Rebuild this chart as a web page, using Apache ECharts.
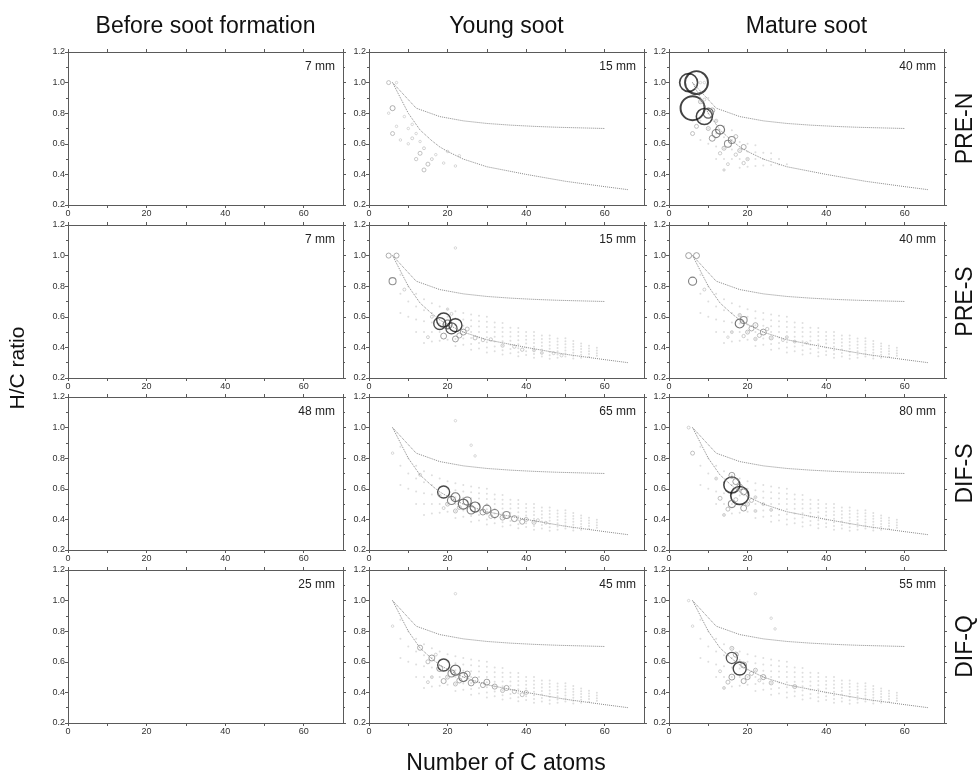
<!DOCTYPE html>
<html>
<head>
<meta charset="utf-8">
<script src="https://cdn.jsdelivr.net/npm/echarts@6/dist/echarts.min.js"></script>
<style>
  html, body { margin: 0; padding: 0; background: #fff; }
  #chart { width: 979px; height: 776px; }
</style>
</head>
<body>
<div id="chart"></div>
<script>
const columnTitles = ['Before soot formation', 'Young soot', 'Mature soot']
const rowNames = ['PRE-N', 'PRE-S', 'DIF-S', 'DIF-Q']
const heightLabels = [
  ['7 mm', '15 mm', '40 mm'],
  ['7 mm', '15 mm', '40 mm'],
  ['48 mm', '65 mm', '80 mm'],
  ['25 mm', '45 mm', '55 mm']
]
const xTicks = [0, 20, 40, 60]

// dotted guide lines (number of C, H/C)
const upperC = [6, 12, 18, 24, 30, 36, 42, 48, 54, 60]
const upperHC = [1.0, 0.833, 0.778, 0.75, 0.733, 0.722, 0.714, 0.708, 0.704, 0.7]
const lowerC = [6, 10, 13, 16, 18, 20, 24, 30, 40, 50, 60, 66]
const lowerHC = [1.0, 0.8, 0.69, 0.62, 0.58, 0.55, 0.5, 0.45, 0.4, 0.355, 0.32, 0.3]

// faint background of weak peaks: C numbers and the H/C values seen at each
const cloudEarlyC = [8, 10, 12, 14, 16, 18, 20, 22, 24, 26, 28, 30]
const cloudEarlyHC = [
  [0.625, 0.75, 0.875], [0.6, 0.7, 0.8, 0.9], [0.5, 0.583, 0.667, 0.75],
  [0.429, 0.5, 0.571, 0.643, 0.714], [0.5, 0.563, 0.625, 0.688], [0.444, 0.5, 0.556, 0.611],
  [0.45, 0.5, 0.55, 0.6], [0.455, 0.5, 0.545, 0.591], [0.458, 0.5, 0.542],
  [0.462, 0.5, 0.538], [0.464, 0.5], [0.467]
]
const cloudWideC = [8, 10, 12, 14, 16, 18, 20, 22, 24, 26, 28, 30, 32, 34, 36, 38, 40, 42, 44, 46, 48, 50, 52, 54, 56, 58]
const cloudWideHC = [
  [0.625, 0.75, 0.875], [0.6, 0.7, 0.8], [0.5, 0.583, 0.667, 0.75],
  [0.429, 0.5, 0.571, 0.643, 0.714], [0.438, 0.5, 0.563, 0.625, 0.688], [0.444, 0.5, 0.556, 0.611, 0.667],
  [0.45, 0.5, 0.55, 0.6, 0.65], [0.409, 0.455, 0.5, 0.545, 0.591, 0.636], [0.417, 0.458, 0.5, 0.542, 0.583, 0.625],
  [0.385, 0.423, 0.462, 0.5, 0.538, 0.577, 0.615], [0.393, 0.429, 0.464, 0.5, 0.536, 0.571, 0.607],
  [0.367, 0.4, 0.433, 0.467, 0.5, 0.533, 0.567, 0.6], [0.375, 0.406, 0.438, 0.469, 0.5, 0.531, 0.563],
  [0.353, 0.382, 0.412, 0.441, 0.471, 0.5, 0.529, 0.559], [0.361, 0.389, 0.417, 0.444, 0.472, 0.5, 0.528],
  [0.342, 0.368, 0.395, 0.421, 0.447, 0.474, 0.5, 0.526], [0.35, 0.375, 0.4, 0.425, 0.45, 0.475, 0.5],
  [0.333, 0.357, 0.381, 0.405, 0.429, 0.452, 0.476, 0.5], [0.341, 0.364, 0.386, 0.409, 0.432, 0.455, 0.477],
  [0.326, 0.348, 0.37, 0.391, 0.413, 0.435, 0.457, 0.478], [0.333, 0.354, 0.375, 0.396, 0.417, 0.438, 0.458],
  [0.34, 0.36, 0.38, 0.4, 0.42, 0.44, 0.46], [0.327, 0.346, 0.365, 0.385, 0.404, 0.423, 0.442],
  [0.333, 0.352, 0.37, 0.389, 0.407, 0.426], [0.339, 0.357, 0.375, 0.393, 0.411], [0.345, 0.362, 0.379, 0.397]
]

// peaks: [number of C, H/C, relative abundance %]
const preN15 = [[5, 1.0, 7], [6, 0.833, 12], [6, 0.667, 7], [7, 1.0, 0], [5, 0.8, 0], [7, 0.714, 0], [9, 0.778, 0],
  [10, 0.7, 0], [8, 0.625, 0], [11, 0.636, 2], [10, 0.6, 0], [12, 0.667, 0], [13, 0.538, 7], [12, 0.5, 4],
  [14, 0.429, 7], [15, 0.467, 7], [14, 0.571, 2], [16, 0.5, 2], [17, 0.529, 0], [19, 0.474, 0], [20, 0.55, 0],
  [22, 0.455, 0], [23, 0.522, 0], [13, 0.615, 0], [11, 0.727, 0]]
const preN40 = [[5, 1.0, 72], [7, 1.0, 95], [6, 0.833, 100], [9, 0.778, 63], [10, 0.8, 35], [11, 0.818, 12],
  [13, 0.692, 30], [12, 0.667, 26], [11, 0.636, 16], [10, 0.7, 7], [7, 0.714, 7], [6, 0.667, 7], [16, 0.625, 21],
  [15, 0.6, 21], [14, 0.571, 7], [17, 0.647, 7], [19, 0.579, 12], [18, 0.556, 7], [17, 0.529, 4], [13, 0.538, 4],
  [20, 0.5, 4], [19, 0.474, 4], [15, 0.467, 2], [14, 0.429, 0], [8, 0.875, 7], [12, 0.75, 4], [8, 1.0, 0],
  [9, 1.0, 0], [9, 0.889, 2]]
const preS15 = [[5, 1.0, 12], [7, 1.0, 12], [6, 0.833, 21], [9, 0.778, 2], [18, 0.556, 44], [19, 0.579, 53],
  [21, 0.524, 40], [22, 0.545, 49], [20, 0.55, 30], [19, 0.474, 16], [23, 0.478, 12], [22, 0.455, 16], [24, 0.5, 16],
  [25, 0.52, 7], [27, 0.462, 7], [29, 0.448, 4], [31, 0.452, 4], [34, 0.412, 4], [37, 0.405, 4], [39, 0.385, 4],
  [42, 0.381, 2], [44, 0.364, 2], [47, 0.362, 2], [49, 0.347, 2], [16, 0.6, 2], [20, 0.65, 0], [22, 1.05, 0],
  [15, 0.467, 2], [21, 0.619, 2]]
const preS40 = [[5, 1.0, 16], [7, 1.0, 16], [6, 0.833, 26], [9, 0.778, 2], [18, 0.556, 30], [19, 0.579, 21],
  [18, 0.611, 4], [21, 0.524, 12], [22, 0.545, 12], [24, 0.5, 16], [23, 0.478, 7], [26, 0.462, 7], [25, 0.52, 4],
  [20, 0.5, 7], [19, 0.474, 4], [22, 0.455, 4], [29, 0.448, 2], [30, 0.467, 2], [32, 0.438, 2], [35, 0.429, 0],
  [16, 0.5, 2], [15, 0.467, 0]]
const difS65 = [[19, 0.579, 44], [21, 0.524, 26], [22, 0.545, 30], [24, 0.5, 35], [25, 0.52, 26], [26, 0.462, 26],
  [27, 0.481, 35], [30, 0.467, 26], [29, 0.448, 16], [32, 0.438, 26], [31, 0.419, 7], [35, 0.429, 21],
  [34, 0.412, 12], [37, 0.405, 16], [39, 0.385, 12], [40, 0.4, 7], [42, 0.381, 7], [43, 0.395, 2], [45, 0.378, 2],
  [20, 0.5, 7], [19, 0.474, 2], [18, 0.556, 2], [22, 0.455, 7], [23, 0.478, 7], [22, 1.045, 0], [26, 0.885, 0],
  [27, 0.815, 0], [6, 0.833, 0], [13, 0.692, 2]]
const difS80 = [[5, 1.0, 2], [6, 0.833, 7], [16, 0.625, 63], [18, 0.556, 72], [16, 0.688, 16], [17, 0.647, 16],
  [18, 0.611, 16], [19, 0.579, 16], [16, 0.5, 21], [15, 0.467, 7], [13, 0.538, 7], [19, 0.474, 16], [20, 0.5, 7],
  [21, 0.524, 7], [22, 0.545, 2], [22, 0.455, 2], [24, 0.5, 2], [12, 0.667, 2], [14, 0.429, 2], [17, 0.529, 7],
  [26, 0.462, 2]]
const difQ45 = [[19, 0.579, 44], [18, 0.556, 16], [22, 0.545, 35], [21, 0.524, 21], [24, 0.5, 30], [25, 0.52, 16],
  [23, 0.478, 12], [26, 0.462, 16], [27, 0.481, 16], [29, 0.448, 12], [30, 0.467, 16], [32, 0.438, 12],
  [34, 0.412, 7], [35, 0.429, 12], [37, 0.405, 7], [39, 0.385, 7], [40, 0.4, 7], [19, 0.474, 12], [20, 0.5, 7],
  [22, 0.455, 7], [13, 0.692, 12], [16, 0.625, 16], [15, 0.6, 7], [17, 0.647, 2], [6, 0.833, 0], [16, 0.5, 2],
  [15, 0.467, 2], [22, 1.045, 0]]
const difQ55 = [[16, 0.625, 40], [18, 0.556, 49], [19, 0.579, 16], [17, 0.647, 12], [16, 0.688, 7], [16, 0.5, 16],
  [15, 0.467, 7], [19, 0.474, 12], [20, 0.5, 12], [21, 0.524, 7], [22, 0.545, 7], [24, 0.5, 12], [26, 0.462, 7],
  [23, 0.478, 2], [13, 0.538, 2], [14, 0.429, 2], [32, 0.438, 7], [22, 1.045, 0], [26, 0.885, 0], [27, 0.815, 0],
  [6, 0.833, 0], [5, 1.0, 0]]

const peaks = [
  [null, preN15, preN40],
  [null, preS15, preS40],
  [null, difS65, difS80],
  [null, difQ45, difQ55]
]
const clouds = [
  [null, null, 'early'],
  [null, 'wide', 'wide'],
  [null, 'wide', 'wide'],
  [null, 'wide', 'wide']
]

function cloudPoints(kind) {
  const cs = kind === 'early' ? cloudEarlyC : cloudWideC
  const hcs = kind === 'early' ? cloudEarlyHC : cloudWideHC
  const out = []
  cs.forEach((c, i) => hcs[i].forEach(h => out.push([c, h])))
  return out
}

const FONT = '"Liberation Sans", Arial, Helvetica, sans-serif'
const AXIS = '#5a5a5a'
const lefts = [68, 369, 669]
const tops = [52, 225, 397, 570]
const W = 275
const H = 153

function grayFor(a) {
  const g = Math.round(Math.max(20, 195 - 3.8 * a))
  return `rgb(${g},${g},${g})`
}

const grid = []
const xAxis = []
const yAxis = []
const series = []
const graphic = []

columnTitles.forEach((t, c) => {
  graphic.push({
    type: 'text', x: lefts[c] + W / 2, y: 27,
    style: { text: t, font: `23px ${FONT}`, fill: '#111', align: 'center', verticalAlign: 'middle', textAlign: 'center', textVerticalAlign: 'middle' }
  })
})

rowNames.forEach((name, r) => {
  graphic.push({
    type: 'text', x: 966, y: tops[r] + H / 2, rotation: Math.PI / 2,
    style: { text: name, font: `23px ${FONT}`, fill: '#111', align: 'center', verticalAlign: 'middle', textAlign: 'center', textVerticalAlign: 'middle' }
  })
  for (let c = 0; c < 3; c++) {
    const g = grid.length
    grid.push({ left: lefts[c], top: tops[r], width: W, height: H })

    const xBase = {
      gridIndex: g, type: 'value', min: 0, max: 70, interval: 10,
      axisLine: { onZero: false, lineStyle: { color: AXIS, width: 1 } },
      axisTick: { length: 3, lineStyle: { color: AXIS } },
      splitLine: { show: false }
    }
    xAxis.push(Object.assign({}, xBase, {
      position: 'bottom',
      axisLabel: {
        fontSize: 9, color: '#333', margin: 4, fontFamily: FONT, showMaxLabel: false,
        formatter: v => (xTicks.includes(v) ? String(v) : '')
      }
    }))
    xAxis.push(Object.assign({}, xBase, { position: 'top', axisLabel: { show: false } }))

    const yBase = {
      gridIndex: g, type: 'value', min: 0.2, max: 1.2, interval: 0.2,
      axisLine: { onZero: false, lineStyle: { color: AXIS, width: 1 } },
      axisTick: { length: 3, lineStyle: { color: AXIS } },
      minorTick: { show: true, splitNumber: 2, length: 2, lineStyle: { color: AXIS } },
      splitLine: { show: false }
    }
    yAxis.push(Object.assign({}, yBase, {
      position: 'left',
      axisLabel: { fontSize: 9, color: '#333', margin: 3, fontFamily: FONT, formatter: v => v.toFixed(1) }
    }))
    yAxis.push(Object.assign({}, yBase, { position: 'right', axisLabel: { show: false } }))

    graphic.push({
      type: 'text', x: lefts[c] + W - 8, y: tops[r] + 15,
      style: { text: heightLabels[r][c], font: `12px ${FONT}`, fill: '#222', align: 'right', verticalAlign: 'middle', textAlign: 'right', textVerticalAlign: 'middle' }
    })

    const pk = peaks[r][c]
    if (!pk) continue

    const axes = { xAxisIndex: 2 * g, yAxisIndex: 2 * g }
    if (clouds[r][c]) {
      series.push(Object.assign({
        type: 'scatter', symbol: 'circle', symbolSize: 2, silent: true,
        itemStyle: { color: '#d6d6d6' },
        data: cloudPoints(clouds[r][c])
      }, axes))
    }
    series.push(Object.assign({
      type: 'line', symbol: 'none', silent: true,
      lineStyle: { type: 'dotted', color: '#8a8a8a', width: 1 },
      data: upperC.map((v, k) => [v, upperHC[k]])
    }, axes))
    series.push(Object.assign({
      type: 'line', symbol: 'none', silent: true,
      lineStyle: { type: 'dotted', color: '#8a8a8a', width: 1 },
      data: lowerC.map((v, k) => [v, lowerHC[k]])
    }, axes))
    series.push(Object.assign({
      type: 'scatter', symbol: 'circle', silent: true,
      symbolSize: v => 2.5 + v[2] * 0.215,
      data: pk.map(p => ({
        value: p,
        itemStyle: {
          color: 'rgba(255,255,255,0)',
          borderColor: grayFor(p[2]),
          borderWidth: 0.8 + p[2] * 0.012
        }
      }))
    }, axes))
  }
})

graphic.push({
  type: 'text', x: 18, y: 368, rotation: Math.PI / 2,
  style: { text: 'H/C ratio', font: `21px ${FONT}`, fill: '#111', align: 'center', verticalAlign: 'middle', textAlign: 'center', textVerticalAlign: 'middle' }
})
graphic.push({
  type: 'text', x: 506, y: 764,
  style: { text: 'Number of C atoms', font: `23px ${FONT}`, fill: '#111', align: 'center', verticalAlign: 'middle', textAlign: 'center', textVerticalAlign: 'middle' }
})

const chart = echarts.init(document.getElementById('chart'))
chart.setOption({
  animation: false,
  backgroundColor: '#fff',
  grid, xAxis, yAxis, series, graphic
})
</script>
</body>
</html>
